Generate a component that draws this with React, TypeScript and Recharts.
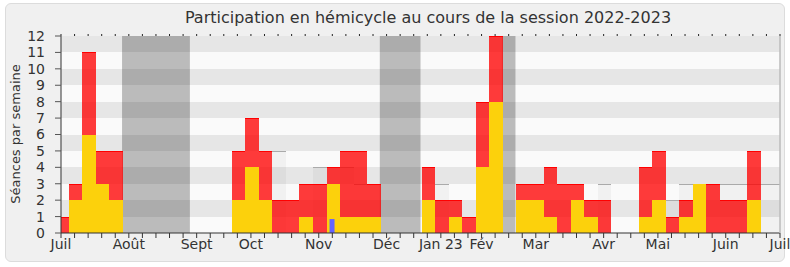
import React from 'react'
import { ComposedChart, Bar, XAxis, YAxis, CartesianGrid, ReferenceArea } from 'recharts'

// one entry per week, week 0 = first week of July 2022
const TOTAL = [1, 3, 11, 5, 5, 0, 0, 0, 0, 0, 0, 0, 0, 5, 7, 5, 2, 2, 3, 3, 4, 5, 5, 3, 0, 0, 0, 4, 2, 2, 1, 8, 12, 0, 3, 3, 4, 3, 3, 2, 2, 0, 0, 4, 5, 1, 2, 3, 3, 2, 2, 5, 0, 0]
const YELLOW = [0, 2, 6, 3, 2, 0, 0, 0, 0, 0, 0, 0, 0, 2, 4, 2, 0, 0, 1, 0, 3, 1, 1, 1, 0, 0, 0, 2, 0, 1, 0, 4, 8, 0, 2, 2, 1, 0, 2, 1, 0, 0, 0, 1, 2, 0, 1, 3, 0, 0, 0, 2, 0, 0]
const MEDIAN = [0, 0, 0, 0, 0, 0, 0, 0, 0, 0, 0, 0, 0, 0, 0, 0, 5, 0, 0, 4, 0, 4, 3, 3, 0, 0, 0, 0, 3, 0, 0, 0, 0, 0, 0, 0, 0, 0, 0, 0, 3, 0, 0, 0, 0, 2, 3, 3, 3, 3, 3, 3, 3, 3]
const BLUE = [0, 0, 0, 0, 0, 0, 0, 0, 0, 0, 0, 0, 0, 0, 0, 0, 0, 0, 0, 0, 0.85, 0, 0, 0, 0, 0, 0, 0, 0, 0, 0, 0, 0, 0, 0, 0, 0, 0, 0, 0, 0, 0, 0, 0, 0, 0, 0, 0, 0, 0, 0, 0, 0, 0]

const MONTH_WEEKS = [0, 5, 10, 14, 19, 24, 28, 31, 35, 40, 44, 49, 53]
const MONTH_LABELS = ['Juil', 'Août', 'Sept', 'Oct', 'Nov', 'Déc', 'Jan 23', 'Fév', 'Mar', 'Avr', 'Mai', 'Juin', 'Juil']

// parliamentary breaks (first and last week)
const BREAK_FIRST = [5, 24, 33]
const BREAK_LAST = [9, 26, 33]

const Y_TICKS = [0, 1, 2, 3, 4, 5, 6, 7, 8, 9, 10, 11, 12]

const WEEKS = TOTAL.map((_, i) => i)
const data = WEEKS.map(i => ({
  week: i,
  yellow: YELLOW[i],
  red: TOTAL[i] - YELLOW[i],
  median: MEDIAN[i],
  blue: BLUE[i],
}))

const labelFor = (v: number) => {
  const idx = MONTH_WEEKS.indexOf(v)
  return idx >= 0 ? MONTH_LABELS[idx] : ''
}

// width of one week on the axis, in px
const BW = 719 / 53

const makeShape = (fill: string, opacity: number, top?: string) => (p: any) => {
  const { x, y, height } = p
  if (!height || height <= 0) return <g />
  return (
    <g shapeRendering="crispEdges">
      <rect x={x} y={y} width={BW} height={height} fill={fill} fillOpacity={opacity} />
      {top && <line x1={x} x2={x + BW} y1={y + 0.5} y2={y + 0.5} stroke={top} strokeWidth={1} />}
    </g>
  )
}

const RedShape = makeShape('#ff0000', 0.77, '#ff0000')
const YellowShape = makeShape('#fcd10c', 1)
const MedianShape = makeShape('#000000', 0.035, '#aaaaaa')

export default function App() {
  const font = "'DejaVu Sans', sans-serif"
  return (
    <div style={{ position: 'absolute', left: 0, top: 0, width: 790, height: 267, background: '#fff', fontFamily: font }}>
      <div style={{
        position: 'absolute', left: 5, top: 3, width: 778, height: 257,
        background: '#f0f0f0', border: '1px solid #dcdcdc', borderRadius: 6,
      }} />
      <div style={{
        position: 'absolute', left: 128, top: 8, width: 600, textAlign: 'center',
        fontSize: 16, color: '#333', whiteSpace: 'nowrap',
      }}>Participation en hémicycle au cours de la session 2022-2023</div>
      <div style={{
        position: 'absolute', left: 15, top: 134, transform: 'translate(-50%, -50%) rotate(-90deg)',
        fontSize: 13, color: '#333', whiteSpace: 'nowrap',
      }}>Séances par semaine</div>
      <div style={{ position: 'absolute', left: 0, top: 0 }}>
        <ComposedChart width={790} height={267} data={data}
          margin={{ top: 34, right: 9, bottom: 4, left: 0 }} barGap={0} barCategoryGap={0}>
          <CartesianGrid vertical={false} horizontal={true} stroke="none"
            horizontalFill={['#e6e6e6', '#fafafa']} />
          <XAxis dataKey="week" type="number" domain={[0, 53]} ticks={WEEKS} interval={0}
            allowDataOverflow tickFormatter={labelFor} height={30} tickSize={5} tickMargin={1}
            axisLine={{ stroke: '#333' }} tickLine={{ stroke: '#333' }}
            tick={{ fill: '#333', fontSize: 14 }} />
          <XAxis xAxisId="m" dataKey="week" type="number" domain={[0, 53]} ticks={WEEKS} interval={0}
            allowDataOverflow orientation="top" height={2} tickSize={2} axisLine={false}
            tickFormatter={() => ''} tickLine={{ stroke: '#222' }} />
          <XAxis xAxisId="b" dataKey="week" type="number" domain={[0, 53]} ticks={WEEKS}
            allowDataOverflow hide />
          <YAxis domain={[0, 12]} ticks={Y_TICKS} interval={0} width={61} tickSize={6} tickMargin={10}
            axisLine={{ stroke: '#333' }} tickLine={{ stroke: '#555' }}
            tick={{ fill: '#333', fontSize: 14 }} />
          <YAxis yAxisId="r" orientation="right" width={1} tick={false}
            axisLine={{ stroke: '#bbb', strokeWidth: 1.5 }} />
          {BREAK_FIRST.map((s, i) => (
            <ReferenceArea key={i} x1={s - 0.5} x2={BREAK_LAST[i] + 0.5} y1={0} y2={12}
              fill="#000" fillOpacity={0.25} stroke="none" />
          ))}
          <Bar xAxisId="m" dataKey="median" barSize={BW} shape={MedianShape} isAnimationActive={false} />
          <Bar dataKey="yellow" stackId="s" barSize={BW} shape={YellowShape} isAnimationActive={false} />
          <Bar dataKey="red" stackId="s" barSize={BW} shape={RedShape} isAnimationActive={false} />
          <Bar xAxisId="b" dataKey="blue" barSize={5} fill="#6464ff" isAnimationActive={false} />
        </ComposedChart>
      </div>
    </div>
  )
}
